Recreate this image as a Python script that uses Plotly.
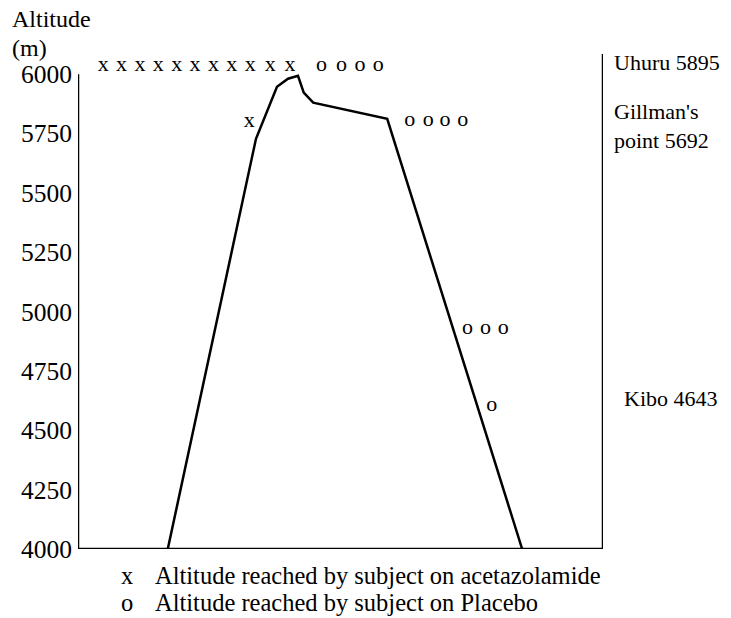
import plotly.graph_objects as go

# Mountain profile: relative horizontal position (0-100) and altitude (m)
profile_x = [17.1, 33.9, 37.9, 40.0, 41.9, 43.0, 44.8, 49.3, 58.9, 84.6]
profile_alt = [4000, 5728, 5947, 5981, 5993, 5922, 5880, 5859, 5812, 4000]

# Altitude reached by subjects on acetazolamide ("x")
acet_x = [4.8, 8.3, 11.8, 15.3, 18.8, 22.3, 25.8, 29.3, 32.8, 36.6, 40.4, 32.6]
acet_alt = [6038, 6038, 6038, 6038, 6038, 6038, 6038, 6038, 6038, 6038, 6038, 5802]

# Altitude reached by subjects on placebo ("o")
plac_x = [46.4, 50.2, 53.7, 57.2, 63.2, 66.7, 69.9, 73.3, 74.2, 77.6, 81.0, 78.8]
plac_alt = [6038, 6038, 6038, 6038, 5807, 5807, 5807, 5807, 4927, 4927, 4927, 4604]

# Landmarks on the right
landmark_text = ["Uhuru 5895", "Gillman's<br>point 5692", "Kibo 4643"]
landmark_alt = [6051, 5782, 4632]
landmark_xpaper = [1.0171, 1.0171, 1.0356]

y_ticks = [4000, 4250, 4500, 4750, 5000, 5250, 5500, 5750, 6000]
y_bottom = 4000
y_top = 6085

FONT = "Liberation Serif, Times New Roman, serif"

fig = go.Figure()

fig.add_trace(go.Scatter(
    x=profile_x, y=profile_alt, mode="lines",
    line=dict(color="black", width=2.5), hoverinfo="skip", showlegend=False,
))
fig.add_trace(go.Scatter(
    x=acet_x, y=acet_alt, mode="text", text=["x"] * len(acet_x),
    textfont=dict(family=FONT, size=22, color="black"),
    cliponaxis=False, showlegend=False,
))
fig.add_trace(go.Scatter(
    x=plac_x, y=plac_alt, mode="text", text=["o"] * len(plac_x),
    textfont=dict(family=FONT, size=22, color="black"),
    cliponaxis=False, showlegend=False,
))

# Frame lines
line_style = dict(color="black", width=2.5)
fig.add_shape(type="line", xref="x", yref="y", x0=0, x1=0, y0=4000, y1=6000, line=line_style)
fig.add_shape(type="line", xref="x", yref="y", x0=0, x1=100.3, y0=4000, y1=4000, line=line_style)
fig.add_shape(type="line", xref="x", yref="y", x0=100, x1=100, y0=4000, y1=y_top, line=line_style)

for t, a, xx in zip(landmark_text, landmark_alt, landmark_xpaper):
    fig.add_annotation(x=xx, y=(a - y_bottom) / (y_top - y_bottom), xref="paper", yref="paper",
                       text=t, showarrow=False, xanchor="left", yanchor="middle", align="left",
                       font=dict(family=FONT, size=22, color="black"))

fig.add_annotation(x=-0.1295, y=1.070, xref="paper", yref="paper", text="Altitude",
                   showarrow=False, xanchor="left", yanchor="middle",
                   font=dict(family=FONT, size=24, color="black"))
fig.add_annotation(x=-0.1295, y=1.012, xref="paper", yref="paper", text="(m)",
                   showarrow=False, xanchor="left", yanchor="middle",
                   font=dict(family=FONT, size=24, color="black"))

legend_rows = [("x", "Altitude reached by subject on acetazolamide", -0.0545),
               ("o", "Altitude reached by subject on Placebo", -0.109)]
for sym, txt, yy in legend_rows:
    fig.add_annotation(x=0.0933, y=yy, xref="paper", yref="paper", text=sym,
                       showarrow=False, xanchor="center", yanchor="middle",
                       font=dict(family=FONT, size=24.5, color="black"))
    fig.add_annotation(x=0.1429, y=yy, xref="paper", yref="paper", text=txt,
                       showarrow=False, xanchor="left", yanchor="middle",
                       font=dict(family=FONT, size=24.5, color="black"))

fig.update_xaxes(range=[0, 100], showgrid=False, zeroline=False, showline=False,
                 showticklabels=False, ticks="", fixedrange=True)
fig.update_yaxes(range=[y_bottom, y_top], tickvals=y_ticks, ticktext=[str(v) for v in y_ticks],
                 showgrid=False, zeroline=False, showline=False, ticks="",
                 ticklabelstandoff=5,
                 tickfont=dict(family=FONT, size=25.5, color="black"), fixedrange=True)

# The page body has an 8px margin, so the figure is 8px smaller than the window
fig.update_layout(
    width=723, height=610,
    margin=dict(l=70, r=128, t=46, b=69, autoexpand=False),
    plot_bgcolor="white", paper_bgcolor="white",
    showlegend=False,
)

fig.write_html("out.html")
